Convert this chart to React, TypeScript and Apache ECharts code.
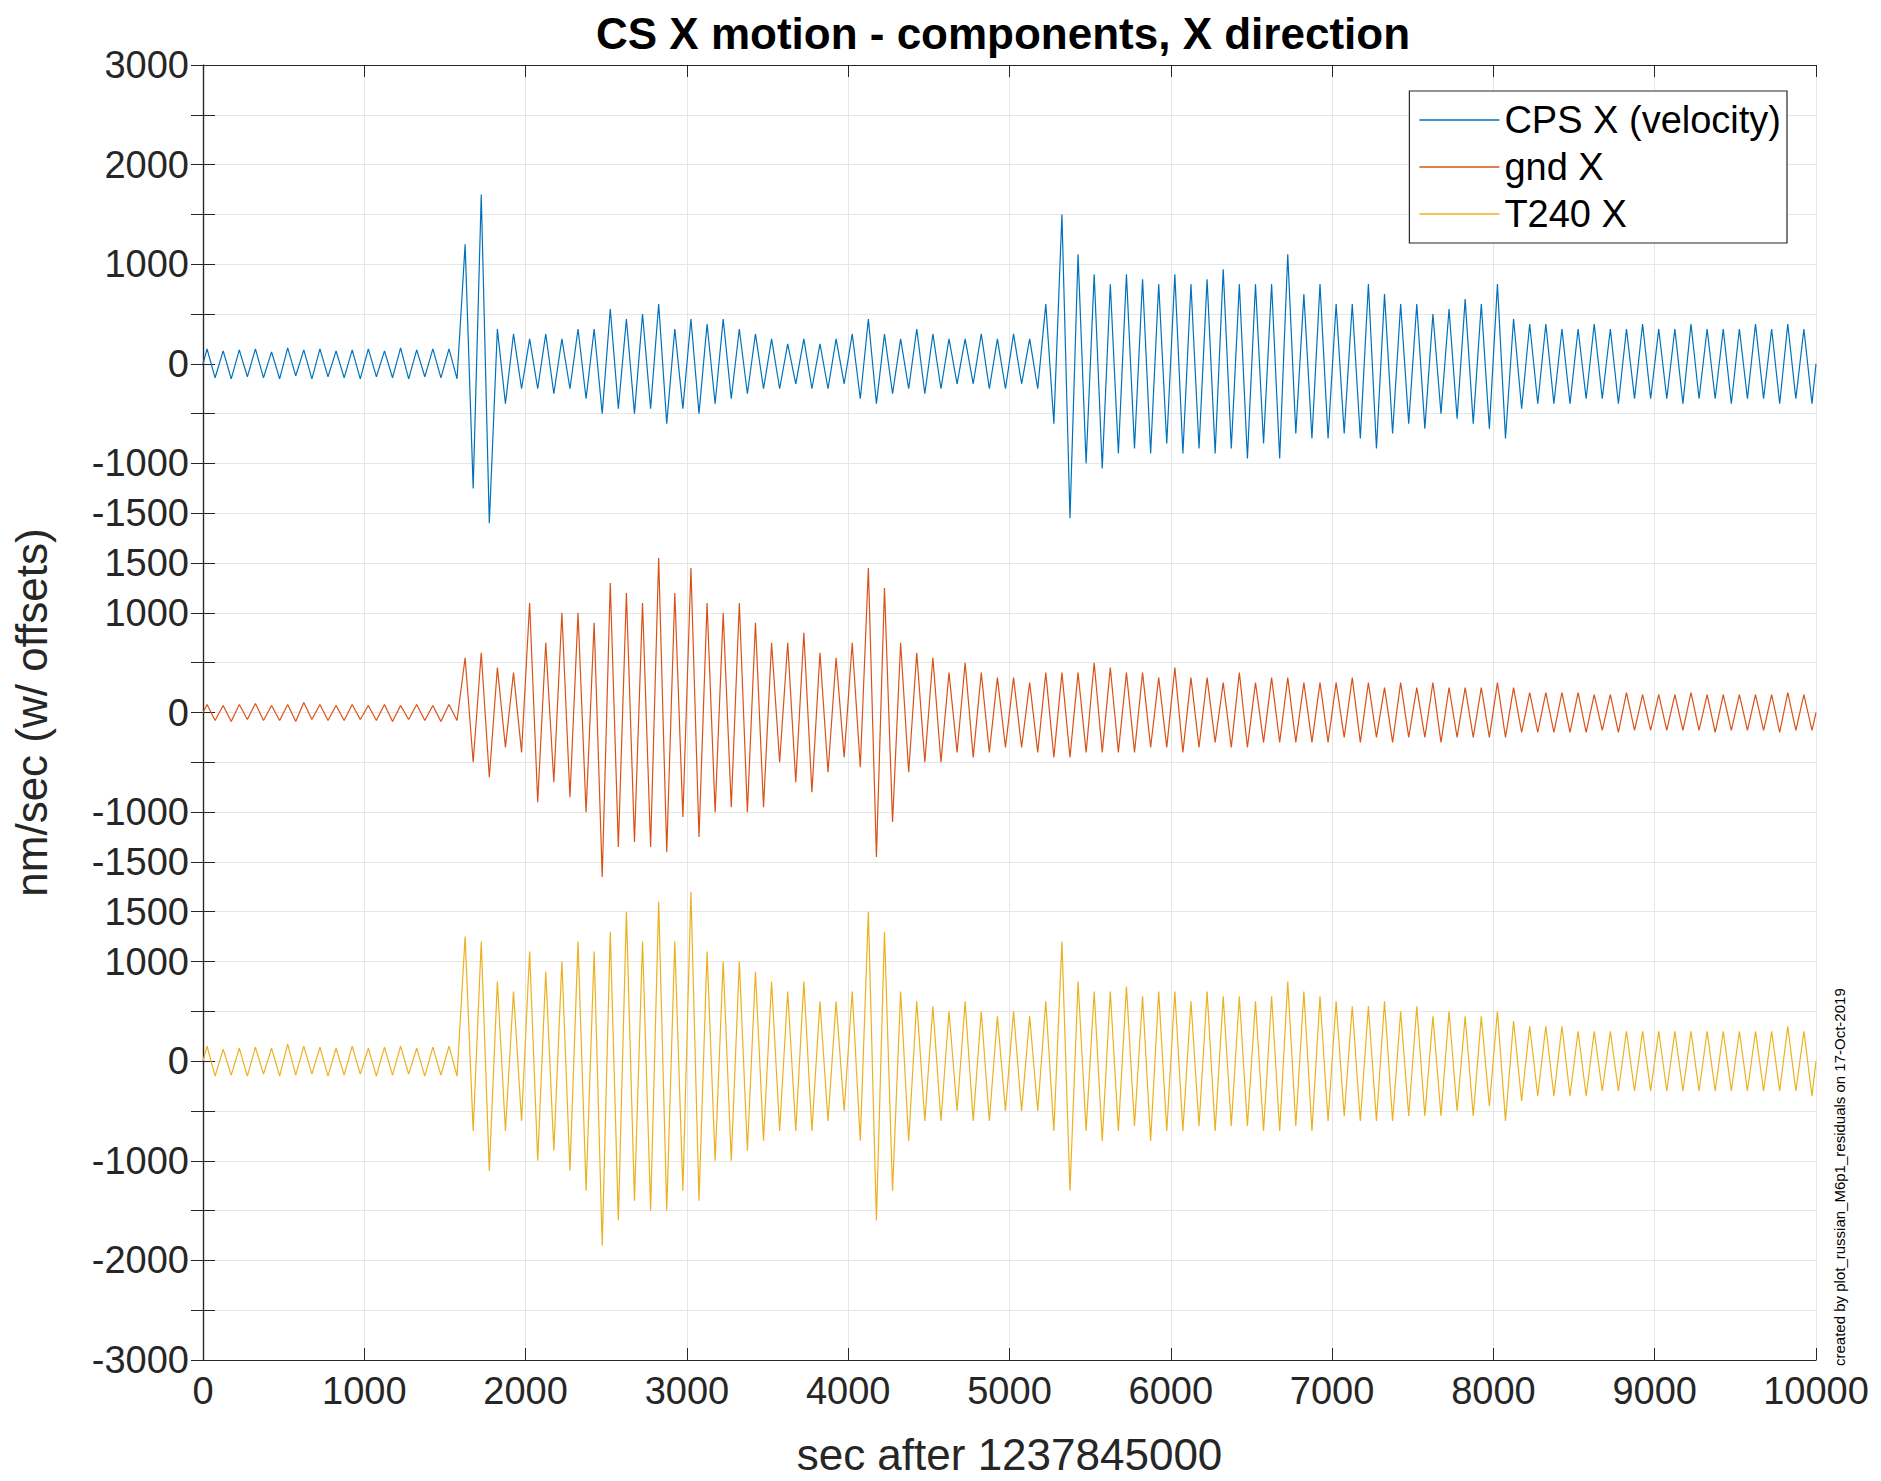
import React, { useEffect, useRef } from 'react';
import * as echarts from 'echarts';

// per 100 s bin: positive peak and negative peak (magnitude)
const cpsHi = [150,130,140,150,120,160,140,150,130,140,150,130,160,140,150,150,1200,1700,350,300,250,300,250,350,350,550,450,500,600,350,450,400,450,350,300,250,200,250,200,250,300,450,300,250,350,300,250,250,300,250,300,250,600,1500,1100,900,800,900,850,800,900,800,850,950,800,800,800,1100,700,800,600,600,800,700,600,600,500,550,650,600,800,450,400,400,350,350,400,350,350,400,350,350,400,350,350,350,400,350,400,350];
const cpsLo = [140,150,130,140,150,120,150,130,140,150,130,140,150,130,140,150,1250,1600,400,250,250,300,250,350,500,450,500,450,600,450,500,400,350,300,250,250,200,250,250,200,350,400,300,250,300,250,200,200,250,250,200,250,600,1550,1000,1050,900,850,900,800,900,850,900,850,950,800,950,700,750,750,700,750,850,700,600,650,500,550,600,650,750,450,400,400,400,350,350,400,350,350,350,400,350,350,400,350,350,400,350,400];
const gndHi = [80,70,80,90,70,80,100,80,70,80,70,80,70,80,70,80,550,600,450,400,1100,700,1000,1000,900,1300,1200,1100,1550,1200,1450,1100,1000,1100,900,700,700,800,600,550,700,1450,1250,700,600,550,400,500,400,350,350,300,400,400,400,500,450,400,400,350,450,350,350,300,400,300,350,350,300,300,300,350,300,250,300,250,300,250,250,250,300,250,200,200,200,200,180,180,200,180,180,180,200,180,180,180,180,180,200,180];
const gndLo = [80,90,70,80,80,90,70,80,80,70,80,90,70,80,90,80,500,650,350,400,900,700,850,1000,1650,1350,1300,1350,1400,1050,1250,1000,950,1000,950,500,700,800,600,450,550,1450,1100,600,500,500,400,450,400,350,350,400,450,450,400,400,400,400,350,350,400,350,300,350,350,300,300,300,300,300,250,300,250,300,250,250,300,250,250,250,250,200,200,200,200,200,180,200,180,180,180,180,180,200,180,180,180,200,180,180];
const t240Hi = [150,120,130,140,130,170,150,140,130,150,130,140,150,130,140,150,1250,1200,800,700,1100,900,1000,1200,1100,1300,1500,1200,1600,1200,1700,1100,1000,1000,900,800,700,800,600,600,700,1500,1300,700,600,550,500,600,500,450,500,450,600,1200,800,700,700,750,650,700,700,600,700,650,650,600,650,800,700,650,600,550,550,600,500,550,450,500,450,450,500,400,350,350,350,300,300,300,300,300,300,300,300,300,300,300,300,300,350,300];
const t240Lo = [150,140,150,130,150,140,130,150,140,130,150,140,130,150,140,150,700,1100,700,600,1000,900,1100,1300,1850,1600,1400,1500,1500,1300,1400,1000,1000,900,800,700,700,700,600,500,800,1600,1300,800,600,600,500,600,600,500,500,500,700,1300,700,800,700,650,800,700,700,650,700,650,650,700,700,650,700,600,550,600,600,600,550,550,550,500,550,450,600,400,350,350,350,350,300,300,300,300,300,300,300,300,300,300,300,300,300,350];

const seriesNames = ['CPS X (velocity)', 'gnd X', 'T240 X'];
const seriesOffsets = [0, -3500, -7000];
const seriesColors = ['#0072BD', '#D95319', '#EDB120'];

// y axis positions (with offsets) and the labels printed at them
const yTickValues = [3000, 2000, 1000, 0, -1000, -1500, -2000, -2500, -3500, -4500, -5000, -5500, -6000, -7000, -8000, -9000, -10000];
const yTickLabels = ['3000', '2000', '1000', '0', '-1000', '-1500', '1500', '1000', '0', '-1000', '-1500', '1500', '1000', '0', '-1000', '-2000', '-3000'];

const binSize = 100;

function trace(hi: number[], lo: number[], offset: number) {
  const pts: number[][] = [[0, offset]];
  hi.forEach((h, i) => {
    pts.push([i * binSize + 25, h + offset]);
    pts.push([i * binSize + 75, -lo[i] + offset]);
  });
  pts.push([10000, offset]);
  return pts;
}

const App: React.FC = () => {
  const ref = useRef<HTMLDivElement>(null);

  useEffect(() => {
    if (!ref.current) return;
    const chart = echarts.init(ref.current, undefined, { renderer: 'svg' });
    const font = 'Liberation Sans, Arial, sans-serif';
    const data = [trace(cpsHi, cpsLo, 0), trace(gndHi, gndLo, seriesOffsets[1]), trace(t240Hi, t240Lo, seriesOffsets[2])];
    const grid = { left: 203, right: 65, top: 65, bottom: 115 };
    const axisLine = { lineStyle: { color: '#262626', width: 1.2 } };
    const splitLine = { show: true, lineStyle: { color: '#e6e6e6', width: 1 } };
    const tick = { inside: true, length: 12, lineStyle: { color: '#262626' } };
    chart.setOption({
      animation: false,
      backgroundColor: '#fff',
      title: {
        text: 'CS X motion - components, X direction',
        left: 998, top: 6, textAlign: 'center',
        textStyle: { fontFamily: font, fontSize: 44, fontWeight: 'bold', color: '#000' },
      },
      legend: {
        orient: 'vertical', right: 94, top: 91,
        data: seriesNames,
        icon: 'path://M0,0H1V0.02H0Z',
        itemWidth: 80, itemHeight: 20, itemGap: 9,
        borderColor: '#262626', borderWidth: 1.2, padding: [10, 6, 10, 10],
        backgroundColor: '#fff',
        textStyle: { fontFamily: font, fontSize: 38, color: '#000' },
      },
      grid,
      xAxis: [
        {
          type: 'value', min: 0, max: 10000, interval: 1000,
          name: 'sec after 1237845000', nameLocation: 'middle', nameGap: 72,
          nameTextStyle: { fontFamily: font, fontSize: 44, color: '#262626' },
          axisLine: { ...axisLine, onZero: false },
          axisTick: tick,
          axisLabel: { fontFamily: font, fontSize: 38, color: '#262626', margin: 12, formatter: (v: number) => String(v) },
          splitLine,
        },
        {
          type: 'value', min: 0, max: 10000, interval: 1000, position: 'top',
          axisLine: { ...axisLine, onZero: false },
          axisTick: tick, axisLabel: { show: false }, splitLine: { show: false },
        },
      ],
      yAxis: [
        {
          type: 'value', min: -10000, max: 3000, interval: 500,
          name: 'nm/sec (w/ offsets)', nameLocation: 'middle', nameGap: 150,
          nameTextStyle: { fontFamily: font, fontSize: 44, color: '#262626' },
          axisLine, axisTick: tick,
          axisLabel: {
            fontFamily: font, fontSize: 38, color: '#262626', margin: 14,
            formatter: (v: number) => {
              const i = yTickValues.indexOf(v);
              return i >= 0 ? yTickLabels[i] : '';
            },
          },
          splitLine,
        },
        {
          type: 'value', min: -10000, max: 3000, interval: 500, position: 'right',
          axisLine, axisTick: tick, axisLabel: { show: false }, splitLine: { show: false },
        },
      ],
      series: seriesNames.map((name, i) => ({
        name, type: 'line', data: data[i], showSymbol: false, symbol: 'none',
        lineStyle: { width: 1.2, color: seriesColors[i] }, itemStyle: { color: seriesColors[i] },
        z: 3 - i,
      })),
      graphic: [
        {
          type: 'text', x: 1832, y: 1366, rotation: Math.PI / 2,
          style: {
            text: 'created by plot_russian_M6p1_residuals on 17-Oct-2019',
            fontFamily: font, fontSize: 15, fill: '#000',
          },
        },
      ],
    });
    return () => chart.dispose();
  }, []);

  return <div ref={ref} style={{ position: 'absolute', left: 0, top: 0, width: 1881, height: 1481 }} />;
};

export default App;
